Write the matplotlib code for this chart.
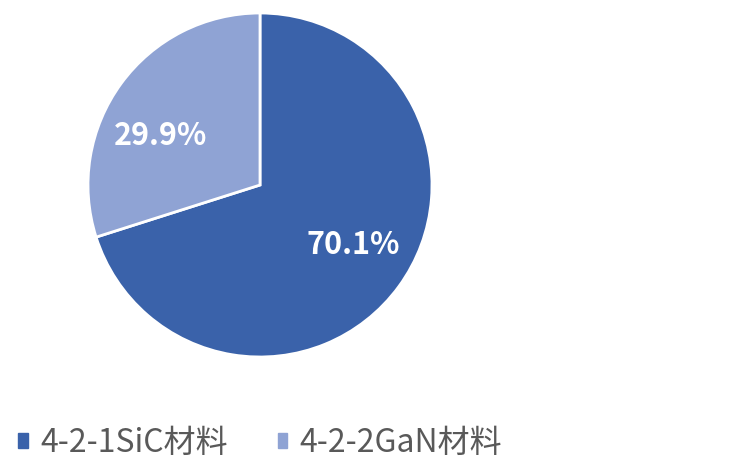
import numpy as np
import matplotlib; matplotlib.use('Agg')
import matplotlib.pyplot as plt
from matplotlib.patches import Rectangle

plt.rcParams['font.family'] = ['Noto Sans CJK SC', 'DejaVu Sans']

labels = ['4-2-1SiC材料', '4-2-2GaN材料']
shares = [70.1, 29.9]
colors = ['#3A62AA', '#8FA3D4']

W, H = 731, 461
fig = plt.figure(figsize=(W/100, H/100), dpi=100)
# pie box in pixels: left 88, right 432, top 13, bottom 357
ax = fig.add_axes([88/W, (H-357)/H, 344/W, 344/H])
wedges, texts, autotexts = ax.pie(
    shares, colors=colors, startangle=90, counterclock=False, radius=1,
    autopct='%.1f%%', pctdistance=0.63,
    wedgeprops=dict(edgecolor='white', linewidth=2),
    textprops=dict(color='white', fontsize=22, fontweight='bold'))
# nudge labels to match the reference placement
for t, ang in zip(autotexts, [-33, 154]):
    r = 0.645
    t.set_position((r*np.cos(np.radians(ang)), r*np.sin(np.radians(ang))))
ax.set_xlim(-1, 1); ax.set_ylim(-1, 1); ax.set_aspect('equal'); ax.axis('off')

handles = [Rectangle((0, 0), 1, 1, color=c) for c in colors]
fig.legend(handles, labels, loc='center left', bbox_to_anchor=(18/W, (H-443)/H),
           ncol=2, frameon=False, fontsize=23, labelcolor='#595959',
           borderpad=0, borderaxespad=0,
           handlelength=0.3, handleheight=0.3, handletextpad=0.4,
           columnspacing=1.55)

fig.savefig('out.png', dpi=100, facecolor='white')
